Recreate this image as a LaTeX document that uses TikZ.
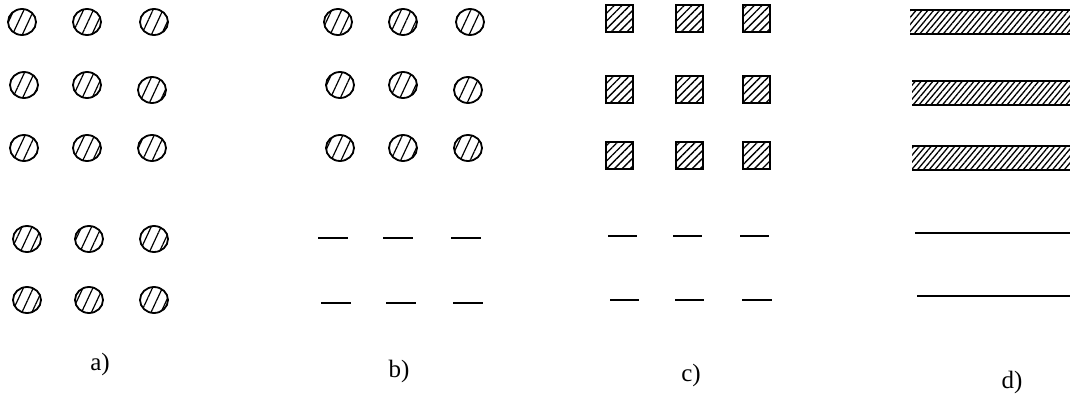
\documentclass[tikz,border=0pt]{standalone}
\usepackage{fontspec}
\setmainfont{Liberation Serif}
\usetikzlibrary{patterns.meta,shapes.geometric}
\begin{document}
\begin{tikzpicture}[x=1pt,y=-1pt,
  dot/.style={ellipse, draw=black, line width=1.8pt, minimum width=28pt, minimum height=26pt, inner sep=0pt,
    pattern={Lines[angle=65,distance=9pt,line width=1.2pt]}},
  sqbox/.style={rectangle, draw=black, line width=2pt, minimum size=27pt, inner sep=0pt,
    pattern={Lines[angle=45,distance=5.5pt,line width=1.3pt]}},
  barfill/.style={pattern={Lines[angle=50,distance=4.5pt,line width=1.3pt]}},
  edge/.style={line width=2pt, black},
  dashseg/.style={line width=2.2pt, black},
  lab/.style={font=\fontsize{25}{27}\selectfont, inner sep=0pt}
]
\useasboundingbox (0,0) rectangle (1070,402);
% group a
\foreach \x/\y [count=\i] in {22/22,87/22,154/22,24/85,87/85,152/90,24/148,87/148,152/148,27/239,89/239,154/239,27/300,89/300,154/300}
  \node[dot] (a\i) at (\x,\y) {};
% group b
\foreach \x/\y [count=\i] in {338/22,403/22,470/22,340/85,403/85,468/90,340/148,403/148,468/148}
  \node[dot] (b\i) at (\x,\y) {};
\foreach \xa/\xb/\y in {318/348/238,383/413/238,451/481/238,321/351/303,386/416/303,453/483/303}
  \draw[dashseg] (\xa,\y) -- (\xb,\y);
% group c
\foreach \x/\y [count=\i] in {619/18,689/18,756/18,619/89,689/89,756/89,619/155,689/155,756/155}
  \node[sqbox] (c\i) at (\x,\y) {};
\foreach \xa/\xb/\y in {608/637/236,673/702/236,740/769/236,610/639/300,675/704/300,742/772/300}
  \draw[dashseg] (\xa,\y) -- (\xb,\y);
% group d
\foreach \xa/\ya/\yb in {910/10/34,912/81/105,912/146/170}{
  \fill[barfill] (\xa,\ya) rectangle (1070,\yb);
  \draw[edge] (\xa,\ya) -- (1070,\ya);
  \draw[edge] (\xa,\yb) -- (1070,\yb);
}
\draw[edge] (915,233) -- (1070,233);
\draw[edge] (917,296) -- (1070,296);
% labels
\node[lab] (la) at (100,364) {a)};
\node[lab] (lb) at (399,371) {b)};
\node[lab] (lc) at (691,375) {c)};
\node[lab] (ld) at (1012,382) {d)};
\end{tikzpicture}
\end{document}
